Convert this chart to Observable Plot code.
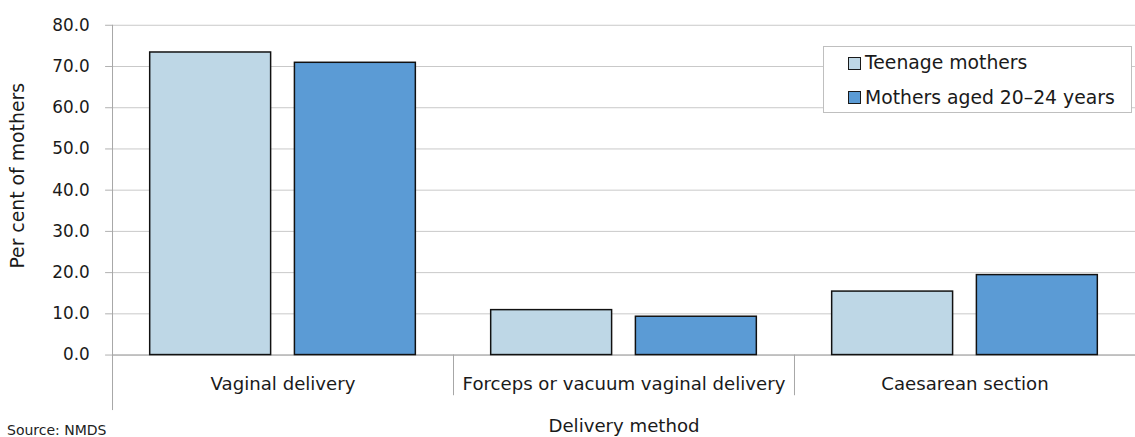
<!DOCTYPE html>
<html><head><meta charset="utf-8">
<script src="https://cdn.jsdelivr.net/npm/d3@7"></script>
<script src="https://cdn.jsdelivr.net/npm/@observablehq/plot@0.6"></script>
<style>
html,body{margin:0;padding:0;background:#fff;overflow:hidden}
#wrap{position:relative;width:1135px;height:437px;overflow:hidden}
#legend{position:absolute;left:823px;top:46px;width:307px;height:65px;border:1px solid #bfbfbf;background:#fff;font-family:"DejaVu Sans";font-size:18.8px;color:#1a1a1a}
.item{position:absolute;left:24px;display:flex;align-items:center;white-space:nowrap;line-height:22px;height:22px}
.sw{width:11px;height:11px;border:1.5px solid #1a1a1a;margin-right:4px}
#source{position:absolute;left:7px;top:422px;font-family:"DejaVu Sans";font-size:14px;color:#222}
</style></head>
<body><div id="wrap"></div>
<script>
const categories = ["Vaginal delivery", "Forceps or vacuum vaginal delivery", "Caesarean section"];
const series = ["Teenage mothers", "Mothers aged 20–24 years"];
const teenage = [73.4, 10.9, 15.4];
const aged2024 = [70.9, 9.3, 19.4];
const yTicks = [0, 10, 20, 30, 40, 50, 60, 70, 80];
const colors = ["#bed7e6", "#5b9bd5"];
const yLabel = "Per cent of mothers";
const xLabel = "Delivery method";
const sourceText = "Source: NMDS";

const data = categories.flatMap((c, i) => [
  {category: c, series: series[0], value: teenage[i]},
  {category: c, series: series[1], value: aged2024[i]}
]);

const plot = Plot.plot({
  width: 1145,
  height: 437,
  marginLeft: 113,
  marginRight: 0,
  marginTop: 25,
  marginBottom: 79.3,
  style: {fontFamily: "DejaVu Sans", fontSize: "17px", color: "#1a1a1a", background: "transparent", overflow: "visible"},
  fx: {domain: categories, padding: 0},
  x: {domain: series, paddingInner: 0.163, paddingOuter: 0.2517, axis: null},
  y: {domain: [0, 80]},
  color: {domain: series, range: colors},
  marks: [
    Plot.gridY(yTicks, {stroke: "#c8c8c8", strokeOpacity: 1}),
    Plot.axisY(yTicks, {tickFormat: d => d.toFixed(1), tickSize: 7, tickPadding: 16, stroke: "#b0b0b0", fontSize: 17, label: null}),
    Plot.text([yLabel], {fx: () => categories[0], frameAnchor: "left", textAnchor: "middle", rotate: -90, dx: -95, dy: -14.5, fontSize: 19, fill: "#1a1a1a"}),
    Plot.ruleY([0], {stroke: "#a0a0a0"}),
    Plot.barY(data, {fx: "category", x: "series", y: "value", fill: "series", stroke: "#111", strokeWidth: 1.5}),
    Plot.axisFx({anchor: "bottom", tickSize: 0, tickPadding: 22, fontSize: 18.3, label: xLabel, labelAnchor: "center", labelOffset: 78})
  ]
});

const wrap = document.getElementById("wrap");
wrap.appendChild(plot);

// category dividers and left axis line from the library's scales
const fxS = plot.scale("fx");
const yS = plot.scale("y");
const svg = d3.select(plot);
const y0 = yS.apply(0);
const g = svg.append("g").attr("stroke", "#a6a6a6").attr("stroke-width", 1);
categories.forEach((c, i) => {
  const x = Math.round(fxS.apply(c)) + 0.5;
  g.append("line").attr("x1", x).attr("x2", x)
    .attr("y1", i === 0 ? yS.apply(yTicks[yTicks.length - 1]) : y0)
    .attr("y2", i === 0 ? y0 + 56 : y0 + 41);
});

// legend
const legend = document.createElement("div");
legend.id = "legend";
series.forEach((s, i) => {
  const it = document.createElement("div");
  it.className = "item";
  it.style.top = (5 + i * 34.5) + "px";
  const sw = document.createElement("span");
  sw.className = "sw";
  sw.style.background = colors[i];
  const t = document.createElement("span");
  t.textContent = s;
  it.appendChild(sw); it.appendChild(t);
  legend.appendChild(it);
});
wrap.appendChild(legend);

const src = document.createElement("div");
src.id = "source";
src.textContent = sourceText;
wrap.appendChild(src);
</script>
</body></html>
